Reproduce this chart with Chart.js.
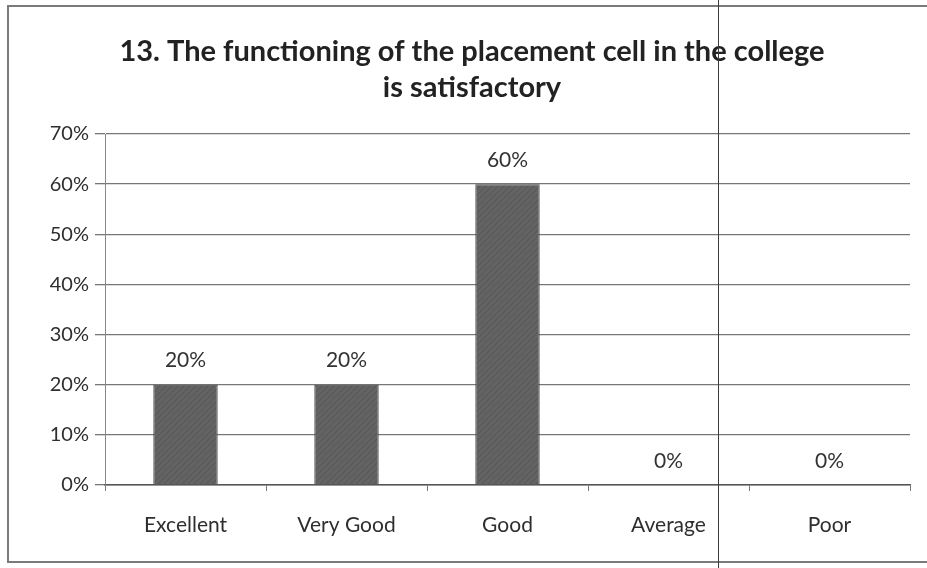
<!DOCTYPE html>
<html>
<head>
<meta charset="utf-8">
<title>Placement cell</title>
<script src="https://cdn.jsdelivr.net/npm/chart.js@4/dist/chart.umd.min.js"></script>
<style>
  html, body { margin: 0; padding: 0; background: #fff; }
  #wrap { position: relative; width: 927px; height: 568px; }
</style>
</head>
<body>
<div id="wrap"><canvas id="chart" width="927" height="568"></canvas></div>
<script>
const categories = ['Excellent', 'Very Good', 'Good', 'Average', 'Poor'];
const responses = [20, 20, 60, 0, 0];
const yTicks = [0, 10, 20, 30, 40, 50, 60, 70];
const titleLines = ['13. The functioning of the placement cell in the college', 'is satisfactory'];

const FONT = 'Lato, "Open Sans", sans-serif';

// dark hatched fill for the bars
function hatch() {
  const c = document.createElement('canvas');
  c.width = 6; c.height = 6;
  const g = c.getContext('2d');
  g.fillStyle = '#636363';
  g.fillRect(0, 0, 6, 6);
  g.strokeStyle = '#555';
  g.lineWidth = 1;
  g.beginPath();
  g.moveTo(0, 6); g.lineTo(6, 0);
  g.moveTo(-3, 3); g.lineTo(3, -3);
  g.moveTo(3, 9); g.lineTo(9, 3);
  g.stroke();
  return g.createPattern(c, 'repeat');
}

// two-line heading, centred a little right of the plot middle
const heading = {
  id: 'heading',
  afterDraw(chart) {
    const ctx = chart.ctx;
    ctx.save();
    ctx.fillStyle = '#222';
    ctx.font = 'bold 29px ' + FONT;
    ctx.textAlign = 'center';
    ctx.textBaseline = 'middle';
    titleLines.forEach((line, i) => ctx.fillText(line, 472, 52 + i * 36));
    ctx.restore();
  }
};

// value labels above each bar
const valueLabels = {
  id: 'valueLabels',
  afterDatasetsDraw(chart) {
    const ctx = chart.ctx;
    const meta = chart.getDatasetMeta(0);
    ctx.save();
    ctx.fillStyle = '#333';
    ctx.font = '21px ' + FONT;
    ctx.textAlign = 'center';
    ctx.textBaseline = 'middle';
    meta.data.forEach((bar, i) => {
      ctx.fillText(responses[i] + '%', bar.x, bar.y - 24);
    });
    ctx.restore();
  }
};

// outer frame of the sheet plus the crease running down the page
const frame = {
  id: 'frame',
  afterDraw(chart) {
    const ctx = chart.ctx;
    ctx.save();
    ctx.strokeStyle = '#7a7a7a';
    ctx.lineWidth = 2;
    ctx.beginPath();
    ctx.moveTo(930, 6);
    ctx.lineTo(8, 6);
    ctx.lineTo(8, 562);
    ctx.lineTo(930, 562);
    ctx.stroke();
    ctx.strokeStyle = '#3c3c3c';
    ctx.lineWidth = 1;
    ctx.beginPath();
    ctx.moveTo(718.5, 0);
    ctx.lineTo(718.5, 568);
    ctx.stroke();
    ctx.restore();
  }
};

new Chart(document.getElementById('chart'), {
  type: 'bar',
  data: {
    labels: categories,
    datasets: [{
      data: responses,
      backgroundColor: hatch(),
      borderColor: '#444',
      borderWidth: 1,
      barPercentage: 0.4,
      categoryPercentage: 1
    }]
  },
  options: {
    responsive: false,
    animation: false,
    layout: { padding: { left: 0, right: 17, top: 134, bottom: 0 } },
    plugins: {
      legend: { display: false },
      tooltip: { enabled: false },
      title: { display: false }
    },
    scales: {
      x: {
        grid: { display: true, drawOnChartArea: false, drawTicks: true, tickLength: 6, color: '#777', offset: true },
        border: { display: true, color: '#555', width: 1.5 },
        ticks: { color: '#2e2e2e', font: { family: FONT, size: 21 }, padding: 22 },
        afterFit(scale) { scale.height = 83; }
      },
      y: {
        min: 0,
        max: 70,
        afterBuildTicks(scale) { scale.ticks = yTicks.map(v => ({ value: v })); },
        grid: { color: '#777', lineWidth: 1.3, tickLength: 10 },
        border: { display: true, color: '#888', width: 1 },
        ticks: {
          color: '#2e2e2e',
          font: { family: FONT, size: 20 },
          padding: 6,
          callback: v => v + '%'
        },
        afterFit(scale) { scale.width = 105; }
      }
    }
  },
  plugins: [heading, valueLabels, frame]
});
</script>
</body>
</html>
